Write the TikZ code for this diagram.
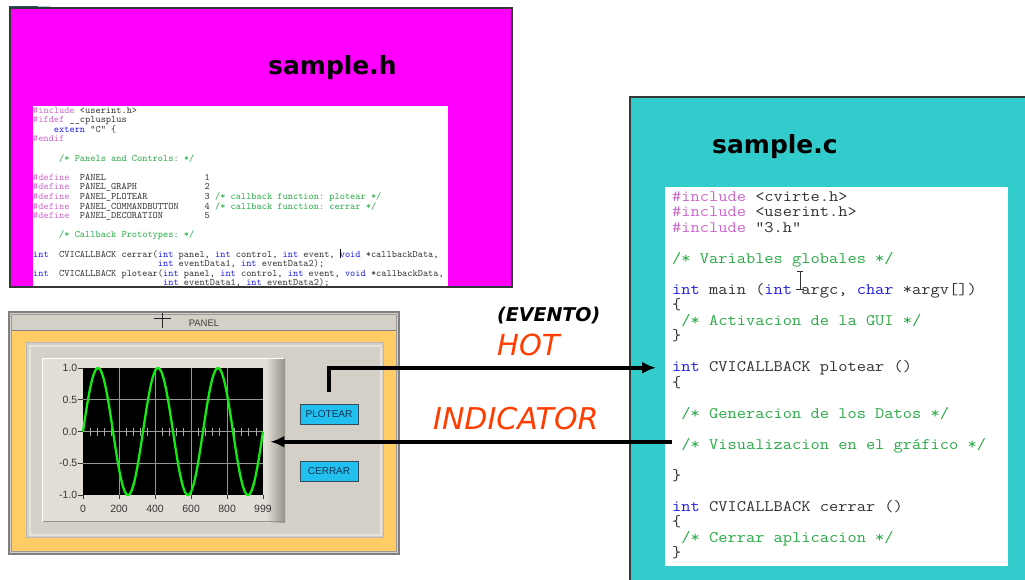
\documentclass[tikz,border=0pt]{standalone}
\usepackage{graphicx}
\usepackage{fontspec}
\setmainfont{DejaVu Sans}
\newfontfamily\guifont{Liberation Sans}
\usetikzlibrary{arrows.meta}

\definecolor{magentabox}{RGB}{255,0,255}
\definecolor{tealbox}{RGB}{51,204,204}
\definecolor{boxedge}{RGB}{55,55,55}
\definecolor{darkteal}{RGB}{20,90,90}
\definecolor{lightteal}{RGB}{160,210,210}
\definecolor{codetext}{RGB}{50,50,50}
\definecolor{codekw}{RGB}{30,30,230}
\definecolor{codepp}{RGB}{204,102,204}
\definecolor{codecm}{RGB}{40,170,70}
\definecolor{guigray}{RGB}{212,208,200}
\definecolor{guiedge}{RGB}{128,128,128}
\definecolor{guilight}{RGB}{230,227,220}
\definecolor{guiorange}{RGB}{255,204,102}
\definecolor{graphface}{RGB}{226,222,214}
\definecolor{graphshade}{RGB}{150,146,138}
\definecolor{gridgray}{RGB}{150,150,150}
\definecolor{lblgray}{RGB}{55,55,55}
\definecolor{btncyan}{RGB}{34,192,238}
\definecolor{btnedge}{RGB}{50,75,90}
\definecolor{btntext}{RGB}{20,50,85}
\definecolor{hotred}{RGB}{255,61,0}
\definecolor{wave}{RGB}{20,235,20}

\newcommand\hkw[1]{\textcolor{codekw}{#1}}
\newcommand\hpp[1]{\textcolor{codepp}{#1}}
\newcommand\hcm[1]{\textcolor{codecm}{#1}}
\newcommand\codesp[1]{\kern#1\fontcharwd\font`\x\relax}
% widened monospace line for the source listing
\newcommand\srcline[1]{\scalebox{1.12}[1]{#1}}

\begin{document}
\begin{tikzpicture}[x=1pt,y=-1pt,
  codeh/.style={anchor=base west, inner sep=0pt, text=codetext,
    text height=6.4pt, text depth=2pt,
    font=\frenchspacing\ttfamily\fontsize{9.9}{9.6}\selectfont},
  codec/.style={anchor=base west, inner sep=0pt, text=codetext,
    text height=10.5pt, text depth=3pt,
    font=\frenchspacing\ttfamily\fontsize{16}{15.5}\selectfont},
  filetitle/.style={anchor=base west, inner sep=0pt,
    font=\bfseries\fontsize{25}{30}\selectfont},
  conn/.style={line width=3.5pt, -{Latex[length=14pt,width=12pt]}},
  btn/.style={draw=btnedge, fill=btncyan, line width=1pt, minimum width=58pt,
    minimum height=20pt, inner sep=0pt, text=btntext,
    font=\guifont\fontsize{10}{12}\selectfont},
  ticklbl/.style={inner sep=0pt, text=lblgray, font=\guifont\fontsize{10.5}{12}\selectfont},
  redlbl/.style={anchor=base west, inner sep=0pt, text=hotred,
    font=\itshape\fontsize{29}{34}\selectfont}
]
\useasboundingbox (0,0) rectangle (1025,579);
\clip (0,0) rectangle (1025,579);
\fill[white] (0,0) rectangle (1025,579);

% ---------- header file window ----------
\fill[darkteal] (9,6) rectangle (38,8.5);
\fill[lightteal] (38,6) rectangle (50,8.5);
\fill[magentabox] (10,8) rectangle (512,287);
\fill[white] (33,106) rectangle (448,287);
\node[filetitle] (htitle) at (268,74) {sample.h};

\node[codeh] (h0)  at (33,113)   {\hpp{\#include} <userint.h>};
\node[codeh] (h1)  at (33,122.6) {\hpp{\#ifdef} \_\_cplusplus};
\node[codeh] (h2)  at (33,132.2) {\codesp{4}\hkw{extern} "C" \{};
\node[codeh] (h3)  at (33,141.8) {\hpp{\#endif}};
\node[codeh] (h5)  at (33,161)   {\codesp{5}\hcm{/* Panels and Controls: */}};
\node[codeh] (h7)  at (33,180.2) {\hpp{\#define}\codesp{2}PANEL\codesp{19}1};
\node[codeh] (h8)  at (33,189.8) {\hpp{\#define}\codesp{2}PANEL\_GRAPH\codesp{13}2};
\node[codeh] (h9)  at (33,199.4) {\hpp{\#define}\codesp{2}PANEL\_PLOTEAR\codesp{11}3 \hcm{/* callback function: plotear */}};
\node[codeh] (h10) at (33,209)   {\hpp{\#define}\codesp{2}PANEL\_COMMANDBUTTON\codesp{5}4 \hcm{/* callback function: cerrar */}};
\node[codeh] (h11) at (33,218.6) {\hpp{\#define}\codesp{2}PANEL\_DECORATION\codesp{8}5};
\node[codeh] (h13) at (33,237.8) {\codesp{5}\hcm{/* Callback Prototypes: */}};
\node[codeh] (h15) at (33,257)   {\hkw{int}\codesp{2}CVICALLBACK cerrar(\hkw{int} panel, \hkw{int} control, \hkw{int} event, \hkw{void} *callbackData,};
\node[codeh] (h16) at (33,266.6) {\codesp{24}\hkw{int} eventData1, \hkw{int} eventData2);};
\node[codeh] (h17) at (33,276.2) {\hkw{int}\codesp{2}CVICALLBACK plotear(\hkw{int} panel, \hkw{int} control, \hkw{int} event, \hkw{void} *callbackData,};
\node[codeh] (h18) at (33,285.8) {\codesp{25}\hkw{int} eventData1, \hkw{int} eventData2);};
% text caret
\draw[black, line width=0.8pt] (340,249) -- (340,258);
\draw[boxedge, line width=1.5pt] (10,8) rectangle (512,287);

% ---------- source file window ----------
\fill[tealbox] (630,97) rectangle (1030,585);
\draw[boxedge, line width=1.5pt] (630,590) -- (630,97) -- (1030,97);
\fill[white] (665,187) rectangle (1008,566);
\node[filetitle] (ctitle) at (712,153) {sample.c};

\node[codec] (c0)  at (672,201)   {\srcline{\hpp{\#include} <cvirte.h>}};
\node[codec] (c1)  at (672,216.5) {\srcline{\hpp{\#include} <userint.h>}};
\node[codec] (c2)  at (672,232)   {\srcline{\hpp{\#include} "3.h"}};
\node[codec] (c4)  at (672,263)   {\srcline{\hcm{/* Variables globales */}}};
\node[codec] (c6)  at (672,294)   {\srcline{\hkw{int} main (\hkw{int} argc, \hkw{char} *argv[])}};
\node[codec] (c7)  at (672,309.5) {\srcline{\{}};
\node[codec] (c8)  at (672,325)   {\srcline{\codesp{1}\hcm{/* Activacion de la GUI */}}};
\node[codec] (c9)  at (672,340.5) {\srcline{\}}};
\node[codec] (cplot) at (672,371.5) {\srcline{\hkw{int} CVICALLBACK plotear ()}};
\node[codec] (c12) at (672,387)   {\srcline{\{}};
\node[codec] (c14) at (672,418)   {\srcline{\codesp{1}\hcm{/* Generacion de los Datos */}}};
\node[codec] (cvis) at (672,449)  {\srcline{\codesp{1}\hcm{/* Visualizacion en el gráfico */}}};
\node[codec] (c18) at (672,480)   {\srcline{\}}};
\node[codec] (c20) at (672,511)   {\srcline{\hkw{int} CVICALLBACK cerrar ()}};
\node[codec] (c21) at (672,526.5) {\srcline{\{}};
\node[codec] (c22) at (672,542)   {\srcline{\codesp{1}\hcm{/* Cerrar aplicacion */}}};
\node[codec] (c23) at (672,557.5) {\srcline{\}}};
% mouse I-beam
\draw[codetext, line width=0.8pt] (800,271) -- (800,289)
  (797,271) -- (803,271) (796,289) -- (804,289);

% ---------- GUI panel ----------
\draw[draw=guiedge, fill=guigray, line width=1.2pt] (9,312) rectangle (399,554);
\draw[draw=gray!80, line width=0.8pt] (11.5,314.5) rectangle (396.5,551.5);
\fill[guiorange] (12,331) rectangle (396,551);
\draw[gray, line width=0.8pt] (12,330.5) -- (396,330.5);
\draw[gray!30!black, line width=0.8pt] (162,312.5) -- (162,327.5) (153.5,318.5) -- (170.5,318.5);
\node[ticklbl, text=black!75, font=\guifont\fontsize{9.5}{11}\selectfont] (paneltitle) at (204,323) {PANEL};

% inner panel
\draw[draw=gray!55, fill=guigray, line width=0.8pt] (26.5,342.5) rectangle (383.5,537.5);
\draw[draw=guilight, line width=2pt] (29.5,345.5) rectangle (380.5,534.5);

% graph control
\fill[graphface] (42,358) rectangle (285,522);
\shade[left color=graphface, right color=graphshade] (266,358) rectangle (285,522);
\draw[graphshade, line width=1.2pt] (42,521.5) -- (285,521.5);
\draw[white, line width=1pt] (42.5,522) -- (42.5,358.5) -- (284,358.5);
\node[fill=black, inner sep=0pt, minimum width=180pt, minimum height=127pt,
  anchor=north west] (plotarea) at (83,368) {};

% grid
\foreach \t in {200,400,600,800}
  \draw[gridgray, line width=0.8pt] ({83+\t/999*180},368) -- ({83+\t/999*180},495);
\draw[gridgray, line width=0.8pt] (83,399.75) -- (263,399.75) (83,463.25) -- (263,463.25);
\draw[gray!75, line width=1pt] (83,431.5) -- (263,431.5);
\foreach \t in {40,80,120,160,240,280,320,360,440,480,520,560,640,680,720,760,840,880,920,960}
  \draw[gray!70, line width=0.9pt] ({83+\t/999*180},427.5) -- ({83+\t/999*180},435.5);

% axis labels
\foreach \v/\yy [count=\i] in {1.0/368,0.5/399.75,0.0/431.5,-0.5/463.25,-1.0/495} {
  \node[ticklbl, anchor=east] (ylbl\i) at (77.5,\yy) {\v};
  \draw[lblgray, line width=0.8pt] (77.5,\yy) -- (83,\yy);
}
\foreach \t [count=\i] in {0,200,400,600,800,999} {
  \node[ticklbl] (xlbl\i) at ({83+\t/999*180},508.5) {\t};
  \draw[lblgray, line width=0.8pt] ({83+\t/999*180},495) -- ({83+\t/999*180},499);
}

% waveform
\draw[wave, line width=2.3pt, line join=round]
  plot[domain=0:999, samples=300, smooth] ({83+\x/999*180}, {431.5-63.5*sin(\x/999*1080)});

% buttons
\node[btn] (btnplot) at (329,414) {PLOTEAR};
\node[btn] (btnclose) at (329,471) {CERRAR};

% ---------- connectors ----------
\draw[conn] ([yshift=12pt]btnplot.north) |- ([xshift=-16pt]cplot.west);
\coordinate (vis) at ([yshift=3.5pt]cvis.west);
\coordinate (plotedge) at ([xshift=7pt]plotarea.east);
\draw[conn] (vis) -- (vis -| plotedge);

% ---------- labels ----------
\node[anchor=base west, inner sep=0pt, font=\bfseries\itshape\fontsize{19}{22}\selectfont]
  (evento) at (497,321) {(EVENTO)};
\node[redlbl] (hot) at (497,355) {HOT};
\node[redlbl, font=\itshape\fontsize{30}{34}\selectfont] (indicator) at (433,429) {INDICATOR};
\end{tikzpicture}
\end{document}
